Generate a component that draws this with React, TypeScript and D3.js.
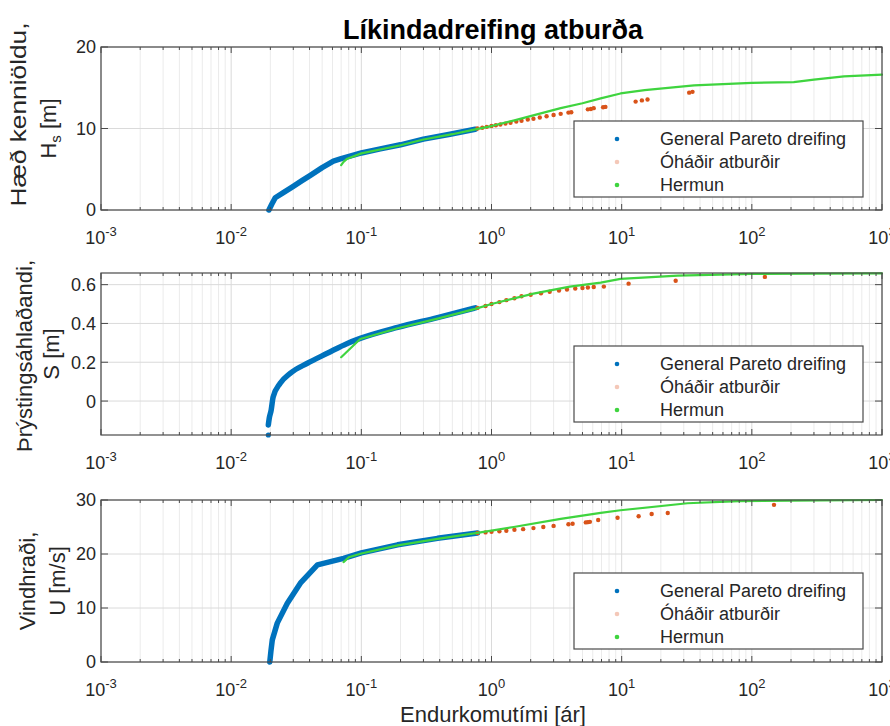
import React, { useEffect, useRef } from "react";
import * as d3 from "d3";

// ---- data (return period in years) ----
const xTickExps = [-3, -2, -1, 0, 1, 2, 3];
const legendLabels = ["General Pareto dreifing", "Óháðir atburðir", "Hermun"];

// Hæð kenniöldu Hs [m]
const gpT1 = [0.0195, 0.0205, 0.0218, 0.025, 0.03, 0.035, 0.0406, 0.05, 0.061, 0.07, 0.1, 0.14, 0.2, 0.3, 0.48, 0.75];
const gpHs = [0, 0.7, 1.5, 2.1, 2.9, 3.6, 4.25, 5.2, 6.0, 6.3, 7.0, 7.5, 8.0, 8.7, 9.3, 9.9];
const simT1 = [0.07, 0.073, 0.078, 0.1, 0.2, 0.3, 0.5, 0.75, 1.0, 1.5, 2.2, 3.4, 5, 6.9, 9.8, 15, 36, 100, 210, 300, 510, 1000];
const simHs = [5.5, 5.9, 6.3, 6.95, 7.95, 8.65, 9.3, 9.9, 10.3, 11.0, 11.7, 12.5, 13.1, 13.7, 14.3, 14.7, 15.3, 15.6, 15.7, 16.0, 16.4, 16.6];
const obsT1 = [0.78, 0.85, 0.92, 1.0, 1.08, 1.17, 1.28, 1.4, 1.55, 1.7, 1.9, 2.1, 2.35, 2.65, 3.0, 3.4, 3.9, 4.1, 5.5, 5.8, 6.1, 7.2, 7.5, 12.8, 14.3, 15.8, 33, 35];
const obsHs = [10.0, 10.1, 10.2, 10.3, 10.4, 10.5, 10.6, 10.7, 10.85, 10.95, 11.1, 11.2, 11.35, 11.5, 11.65, 11.8, 11.95, 12.0, 12.35, 12.4, 12.5, 12.6, 12.65, 13.3, 13.45, 13.55, 14.4, 14.5];

// Þrýstingsáhlaðandi S [m]
const gpT2 = [0.0193, 0.0196, 0.0203, 0.021, 0.0238, 0.0284, 0.0385, 0.0547, 0.078, 0.098, 0.19, 0.385, 0.75];
const gpS = [-0.123, -0.09, -0.046, 0.02, 0.092, 0.143, 0.195, 0.246, 0.297, 0.323, 0.38, 0.43, 0.48];
const gpLoneT2 = [0.0193];
const gpLoneS = [-0.175];
const simT2 = [0.07, 0.098, 0.19, 0.385, 0.75, 1.0, 2.1, 4, 6.9, 9.8, 27, 100, 300, 1000];
const simS = [0.226, 0.32, 0.375, 0.425, 0.475, 0.5, 0.554, 0.59, 0.61, 0.63, 0.646, 0.655, 0.657, 0.658];
const obsT2 = [0.78, 0.9, 1.0, 1.15, 1.3, 1.5, 1.7, 2.0, 2.4, 2.8, 3.3, 3.8, 4.4, 5.0, 5.5, 6.1, 7.3, 11.3, 26, 126];
const obsS = [0.48, 0.49, 0.5, 0.51, 0.52, 0.53, 0.54, 0.548, 0.556, 0.563, 0.57, 0.575, 0.58, 0.583, 0.585, 0.588, 0.59, 0.605, 0.62, 0.64];

// Vindhraði U [m/s]
const gpT3 = [0.0198, 0.0202, 0.0207, 0.0226, 0.027, 0.034, 0.046, 0.073, 0.1, 0.19, 0.385, 0.78];
const gpU = [0, 2.0, 4.1, 7.2, 10.9, 14.6, 18.0, 19.2, 20.2, 21.7, 22.9, 23.9];
const simT3 = [0.073, 0.08, 0.1, 0.19, 0.385, 0.78, 1.48, 3.4, 6.9, 9.8, 32, 80, 200, 1000];
const simU = [18.5, 19.4, 20.1, 21.6, 22.8, 23.9, 25.0, 26.5, 27.6, 28.1, 29.4, 29.8, 29.9, 30.0];
const obsT3 = [0.78, 0.9, 1.0, 1.15, 1.3, 1.5, 1.75, 2.1, 2.5, 3.0, 3.9, 4.2, 5.3, 5.5, 5.7, 6.6, 9.3, 13.5, 17, 22.6, 148];
const obsU = [23.9, 24.0, 24.1, 24.2, 24.3, 24.5, 24.6, 24.8, 25.0, 25.2, 25.5, 25.6, 25.85, 25.9, 25.95, 26.3, 26.7, 27.0, 27.4, 27.6, 29.1];

const blue = "#0072BD";
const red = "#D95319";
const green = "#3fd43f";
const ink = "#262626";
const font = "Liberation Sans, Arial, Helvetica, sans-serif";

const zip = (xs: number[], ys: number[]) => xs.map((x, i) => [x, ys[i]] as [number, number]);

const panels = [
  {
    top: 47, bottom: 210, domain: [0, 20], ticks: [0, 10, 20],
    label: "Hæð kenniöldu,", labelLen: 184, labelShift: -14,
    sym: "H", sub: "s", unit: " [m]", lx: [26, 56], smooth: false,
    gp: zip(gpT1, gpHs), lone: [] as [number, number][], sim: zip(simT1, simHs), obs: zip(obsT1, obsHs),
  },
  {
    top: 273, bottom: 435, domain: [-0.175, 0.66], ticks: [0, 0.2, 0.4, 0.6],
    label: "Þrýstingsáhlaðandi,", labelLen: 0, labelShift: 2,
    sym: "S", sub: "", unit: " [m]", lx: [32, 59], smooth: true,
    gp: zip(gpT2, gpS), lone: zip(gpLoneT2, gpLoneS), sim: zip(simT2, simS), obs: zip(obsT2, obsS),
  },
  {
    top: 500, bottom: 662, domain: [0, 30], ticks: [0, 10, 20, 30],
    label: "Vindhraði,", labelLen: 0, labelShift: 0,
    sym: "U", sub: "", unit: " [m/s]", lx: [35, 65], smooth: false,
    gp: zip(gpT3, gpU), lone: [] as [number, number][], sim: zip(simT3, simU), obs: zip(obsT3, obsU),
  },
];

export default function App() {
  const ref = useRef<SVGSVGElement>(null);

  useEffect(() => {
    const svg = d3.select(ref.current);
    svg.selectAll("*").remove();
    svg.attr("font-family", font);

    const left = 101;
    const right = 882;
    const x = d3.scaleLog().domain([1e-3, 1e3]).range([left, right]);
    const major = xTickExps.map((e) => Math.pow(10, e));
    const minor: number[] = [];
    for (let e = -3; e < 3; e++) for (let k = 2; k < 10; k++) minor.push(k * Math.pow(10, e));

    svg.append("text")
      .attr("x", 493).attr("y", 39).attr("text-anchor", "middle")
      .attr("font-size", 27).attr("font-weight", "bold").attr("fill", "#000")
      .text("Líkindadreifing atburða");

    for (const p of panels) {
      const y = d3.scaleLinear().domain(p.domain).range([p.bottom, p.top]);
      const g = svg.append("g");

      // grid
      g.selectAll(".minor").data(minor).enter().append("line")
        .attr("x1", (d) => x(d)).attr("x2", (d) => x(d))
        .attr("y1", p.top).attr("y2", p.bottom)
        .attr("stroke", "#ebebeb").attr("stroke-width", 1);
      g.selectAll(".major").data(major).enter().append("line")
        .attr("x1", (d) => x(d)).attr("x2", (d) => x(d))
        .attr("y1", p.top).attr("y2", p.bottom)
        .attr("stroke", "#dadada").attr("stroke-width", 1);
      g.selectAll(".hgrid").data(p.ticks).enter().append("line")
        .attr("x1", left).attr("x2", right)
        .attr("y1", (d) => y(d)).attr("y2", (d) => y(d))
        .attr("stroke", "#dadada").attr("stroke-width", 1);

      // data
      const gpLine = d3.line<[number, number]>()
        .curve(p.smooth ? d3.curveMonotoneX : d3.curveLinear)
        .x((d) => x(d[0])).y((d) => y(d[1]));
      const line = d3.line<[number, number]>().x((d) => x(d[0])).y((d) => y(d[1]));
      g.append("path").attr("d", gpLine(p.gp)).attr("fill", "none")
        .attr("stroke", blue).attr("stroke-width", 5.5)
        .attr("stroke-linecap", "round").attr("stroke-linejoin", "round");
      g.selectAll(".lone").data(p.lone).enter().append("circle")
        .attr("cx", (d) => x(d[0])).attr("cy", (d) => y(d[1])).attr("r", 2.6).attr("fill", blue);
      g.selectAll(".obs").data(p.obs).enter().append("circle")
        .attr("cx", (d) => x(d[0])).attr("cy", (d) => y(d[1])).attr("r", 2.2).attr("fill", red);
      g.append("path").attr("d", line(p.sim)).attr("fill", "none")
        .attr("stroke", green).attr("stroke-width", 2.2)
        .attr("stroke-linecap", "round").attr("stroke-linejoin", "round");

      // box
      g.append("rect").attr("x", left).attr("y", p.top)
        .attr("width", right - left).attr("height", p.bottom - p.top)
        .attr("fill", "none").attr("stroke", "#4a4a4a").attr("stroke-width", 1.2);

      // ticks top and bottom
      for (const [vals, len] of [[major, 6], [minor, 3]] as [number[], number][]) {
        g.selectAll(null).data(vals).enter().append("line")
          .attr("x1", (d) => x(d)).attr("x2", (d) => x(d))
          .attr("y1", p.bottom).attr("y2", p.bottom - len)
          .attr("stroke", "#4a4a4a");
        g.selectAll(null).data(vals).enter().append("line")
          .attr("x1", (d) => x(d)).attr("x2", (d) => x(d))
          .attr("y1", p.top).attr("y2", p.top + len)
          .attr("stroke", "#4a4a4a");
      }
      g.selectAll(null).data(p.ticks).enter().append("line")
        .attr("x1", left).attr("x2", left + 7)
        .attr("y1", (d) => y(d)).attr("y2", (d) => y(d)).attr("stroke", "#4a4a4a");
      g.selectAll(null).data(p.ticks).enter().append("line")
        .attr("x1", right).attr("x2", right - 7)
        .attr("y1", (d) => y(d)).attr("y2", (d) => y(d)).attr("stroke", "#4a4a4a");

      // tick labels
      g.selectAll(null).data(p.ticks).enter().append("text")
        .attr("x", left - 5).attr("y", (d) => y(d)).attr("dy", "0.36em")
        .attr("text-anchor", "end").attr("font-size", 18).attr("fill", ink)
        .text((d) => String(d));
      xTickExps.forEach((e) => {
        const t = g.append("text")
          .attr("x", x(Math.pow(10, e))).attr("y", p.bottom + 34)
          .attr("text-anchor", "middle").attr("font-size", 18).attr("fill", ink);
        t.append("tspan").text("10");
        t.append("tspan").attr("dy", -8).attr("font-size", 13).text(String(e));
      });

      // y label
      const cy = (p.top + p.bottom) / 2;
      const l1 = g.append("text")
        .attr("transform", `translate(${p.lx[0]},${cy + p.labelShift}) rotate(-90)`)
        .attr("text-anchor", "middle").attr("font-size", 22).attr("fill", ink)
        .text(p.label);
      if (p.labelLen) l1.attr("textLength", p.labelLen).attr("lengthAdjust", "spacingAndGlyphs");
      const l2 = g.append("text")
        .attr("transform", `translate(${p.lx[1]},${cy}) rotate(-90)`)
        .attr("text-anchor", "middle").attr("font-size", 22).attr("fill", ink);
      l2.append("tspan").text(p.sym);
      if (p.sub) {
        l2.append("tspan").attr("dy", 5).attr("font-size", 15).text(p.sub);
        l2.append("tspan").attr("dy", -5).text(p.unit);
      } else {
        l2.append("tspan").text(p.unit);
      }

      // legend
      const lx = 574;
      const ly = p.bottom - 89;
      g.append("rect").attr("x", lx).attr("y", ly).attr("width", 289).attr("height", 76)
        .attr("fill", "#fff").attr("stroke", "#4a4a4a").attr("stroke-width", 1.2);
      const markerColors = [blue, "#f4c8b8", green];
      legendLabels.forEach((name, i) => {
        const ry = ly + 18 + i * 23;
        g.append("circle").attr("cx", 617).attr("cy", ry).attr("r", 2.3).attr("fill", markerColors[i]);
        g.append("text").attr("x", 660).attr("y", ry).attr("dy", "0.36em")
          .attr("font-size", 18).attr("fill", ink).text(name);
      });
    }

    svg.append("text")
      .attr("x", 493).attr("y", 722).attr("text-anchor", "middle")
      .attr("font-size", 22).attr("fill", ink)
      .text("Endurkomutími [ár]");
  }, []);

  return (
    <svg
      ref={ref}
      width={890}
      height={726}
      style={{ position: "absolute", left: 0, top: 0, background: "#fff" }}
    ></svg>
  );
}
